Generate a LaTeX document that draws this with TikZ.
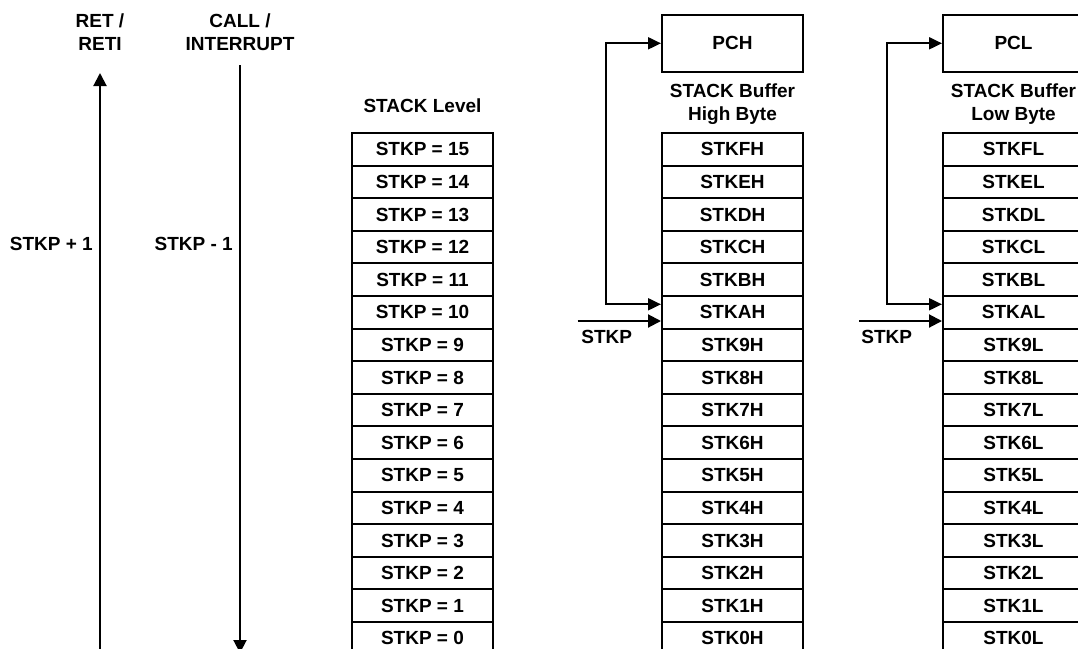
\documentclass[tikz,border=0pt]{standalone}
\usepackage{fontspec}
\setmainfont{Liberation Sans}
\usetikzlibrary{arrows.meta,calc}
\begin{document}
\begin{tikzpicture}[x=1pt,y=-1pt,
  every node/.style={font=\fontsize{19}{23}\selectfont\bfseries, inner sep=0pt},
  cell/.style={draw, line width=2pt, minimum width=141pt, minimum height=32.6pt},
  regbox/.style={draw, line width=2pt, minimum width=141pt, minimum height=56.7pt},
  lbl/.style={align=center},
  conn/.style={line width=2pt},
  tip/.style={-{Triangle[length=13pt,width=13pt]}},
  tips/.style={{Triangle[length=13pt,width=12pt]}-{Triangle[length=13pt,width=12pt]}}
]
\clip (0,0) rectangle (1078,648);
\fill[white] (0,0) rectangle (1078,648);

% labels of the left arrows
\node[lbl] (ret) at (100,32) {RET /\\RETI};
\node[lbl] (call) at (240,32) {CALL /\\INTERRUPT};
\coordinate (retA) at (100,700);
\coordinate (retB) at (100,73);
\coordinate (callA) at (240,65);
\coordinate (callB) at (240,653);
\draw[conn,tip] (retA) -- (retB);
\draw[conn,tip] (callA) -- (callB);
\node[anchor=east] (inc) at (93,244) {STKP + 1};
\node[anchor=east] (dec) at (233,244) {STKP - 1};

% column titles
\node[lbl] (lvl) at (422.5,106) {STACK Level};
\node[lbl] (hbt) at (732.5,104.5) {STACK Buffer\\High Byte};
\node[lbl] (lbt) at (1013.5,104.5) {STACK Buffer\\Low Byte};

% registers
\node[regbox] (PCH) at (732.5,43.3) {PCH};
\node[regbox] (PCL) at (1013.5,43.3) {PCL};

% stack cells
\foreach \n/\h [count=\k from 0] in {15/F,14/E,13/D,12/C,11/B,10/A,9/9,8/8,7/7,6/6,5/5,4/4,3/3,2/2,1/1,0/0}{
  \node[cell] (L\n) at (422.5,{133+32.6*(\k+0.5)}) {STKP = \n};
  \node[cell] (H\n) at (732.5,{133+32.6*(\k+0.5)}) {STK\h H};
  \node[cell] (B\n) at (1013.5,{133+32.6*(\k+0.5)}) {STK\h L};
}

% high byte connectors
\coordinate (hin) at ([yshift=8pt]H10.west);
\coordinate (hx) at (605.7,0);
\draw[conn,tips] (PCH.west) -| (hx |- hin) -- (hin);
\coordinate (hs) at (577.7,321);
\draw[conn,tip] (hs) -- (hs -| H10.west);
\node (hp) at (606.7,337) {STKP};

% low byte connectors
\coordinate (lin) at ([yshift=8pt]B10.west);
\coordinate (lx) at (886.7,0);
\draw[conn,tips] (PCL.west) -| (lx |- lin) -- (lin);
\coordinate (ls) at (859,321);
\draw[conn,tip] (ls) -- (ls -| B10.west);
\node (lp) at (886.7,337) {STKP};
\end{tikzpicture}
\end{document}
